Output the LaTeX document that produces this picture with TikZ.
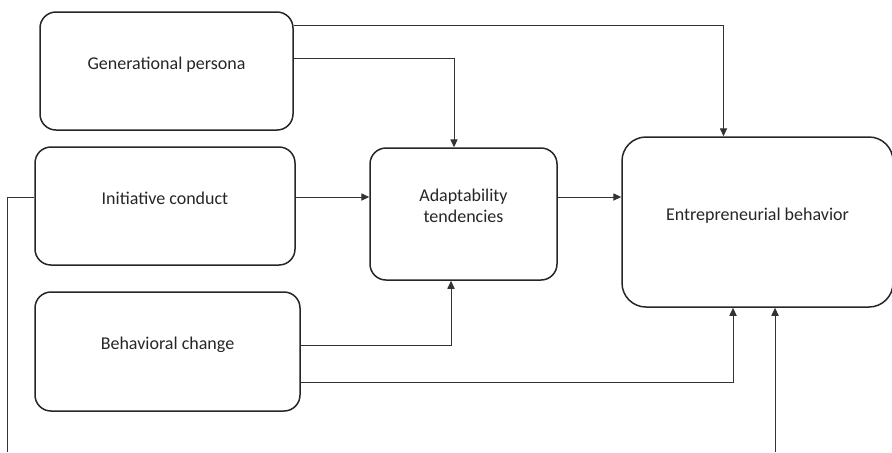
\documentclass[tikz,border=0pt]{standalone}
\usepackage{fontspec}
\setmainfont{Carlito}
\usetikzlibrary{arrows.meta}

\tikzset{
	box/.style={draw=black!85, line width=0.75pt, rounded corners=8pt, align=center,
		font=\fontsize{9}{10.5}\selectfont, text=black!85},
	lifted/.style={text height=6pt, text depth=8pt},
	link/.style={draw=black!80, line width=0.5pt},
	arrow/.style={link, -{Triangle[length=4pt, width=3.6pt]}}
}

\begin{document}
\begin{tikzpicture}[x=0.5pt, y=-0.5pt]
		\useasboundingbox (0,0) rectangle (892,452);
		
		% the five boxes
		\node[box, lifted, minimum width=126.5pt, minimum height=59pt] (gen) at (166.5,71) {Generational persona};
		\node[box, lifted, minimum width=130pt, minimum height=59pt] (init) at (165,206) {Initiative conduct};
		\node[box, lifted, minimum width=132.5pt, minimum height=59.5pt] (behav) at (167.5,351.5) {Behavioral change};
		\node[box, text depth=8pt, minimum width=93.5pt, minimum height=66pt] (adapt) at (463.5,214) {Adaptability\\tendencies};
		\node[box, lifted, rounded corners=12pt, minimum width=135.5pt, minimum height=85pt] (entre) at (757.5,222) {Entrepreneurial behavior};
		
		\coordinate (mid) at ([yshift=4.5pt]init.east);
		\coordinate (lb) at (7,452);
		\coordinate (rb) at (775,452);
		
		% connectors
		\draw[arrow] ([yshift=23pt]gen.east) -| ([xshift=-17pt]entre.north);
		\draw[arrow] ([yshift=6.5pt]gen.east) -| ([xshift=-4.75pt]adapt.north);
		\draw[arrow] (mid) -- (mid -| adapt.west);
		\draw[arrow] (mid -| adapt.east) -- (mid -| entre.west);
		\draw[arrow] ([yshift=3.25pt]behav.east) -| ([xshift=-6.25pt]adapt.south);
		\draw[arrow] ([yshift=-15.25pt]behav.east) -| ([xshift=-12.25pt]entre.south);
		\draw[link] (mid -| init.west) -| (lb);
		\draw[arrow] (rb) -- (rb |- entre.south);
	\end{tikzpicture}
\end{document}
